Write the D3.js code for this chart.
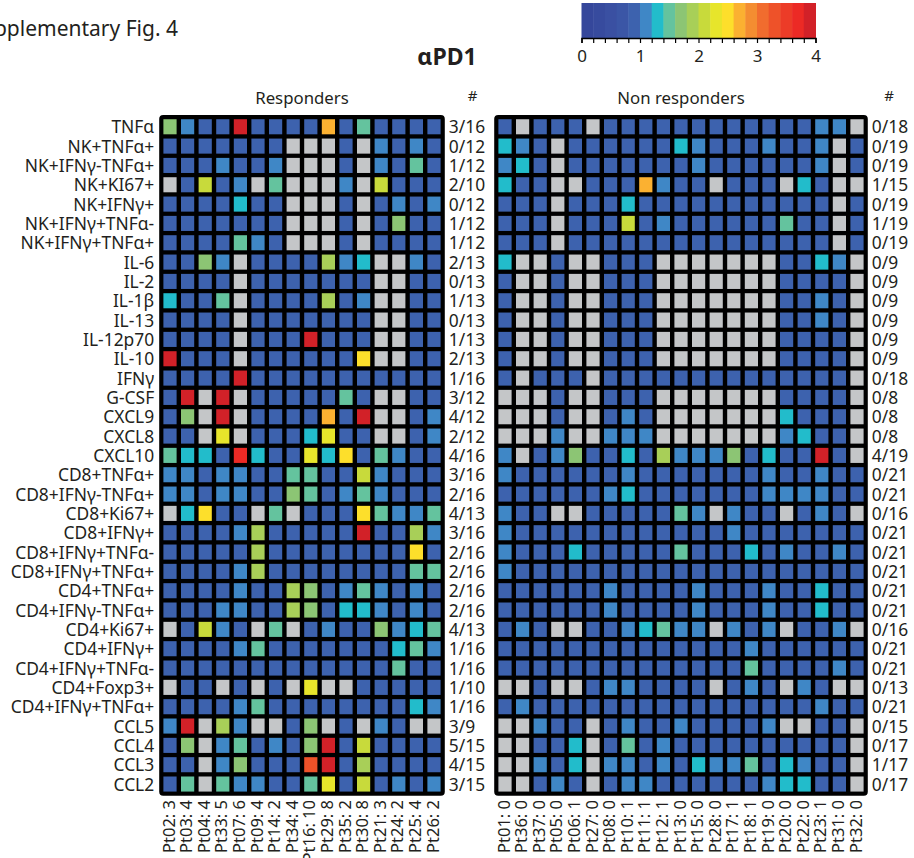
<!DOCTYPE html>
<html>
<head>
<meta charset="utf-8">
<script src="https://cdn.jsdelivr.net/npm/d3@7"></script>
<style>
  body { margin: 0; background: #fff; }
  svg text { font-family: "Noto Sans", sans-serif; fill: #231f20; }
</style>
</head>
<body>
<div id="chart"></div>
<script>
// rows (markers), top to bottom
const rowLabels = ["TNFα", "NK+TNFα+", "NK+IFNγ-TNFα+", "NK+KI67+", "NK+IFNγ+", "NK+IFNγ+TNFα-",
  "NK+IFNγ+TNFα+", "IL-6", "IL-2", "IL-1β", "IL-13", "IL-12p70", "IL-10", "IFNγ", "G-CSF", "CXCL9",
  "CXCL8", "CXCL10", "CD8+TNFα+", "CD8+IFNγ-TNFα+", "CD8+Ki67+", "CD8+IFNγ+", "CD8+IFNγ+TNFα-",
  "CD8+IFNγ+TNFα+", "CD4+TNFα+", "CD4+IFNγ-TNFα+", "CD4+Ki67+", "CD4+IFNγ+", "CD4+IFNγ+TNFα-",
  "CD4+Foxp3+", "CD4+IFNγ+TNFα+", "CCL5", "CCL4", "CCL3", "CCL2"];

const respCols = ["Pt02: 3", "Pt03: 4", "Pt04: 4", "Pt33: 5", "Pt07: 6", "Pt09: 4", "Pt14: 2", "Pt34: 4",
  "Pt16: 10", "Pt29: 8", "Pt35: 2", "Pt30: 8", "Pt21: 3", "Pt24: 2", "Pt25: 4", "Pt26: 2"];
const nonCols = ["Pt01: 0", "Pt36: 0", "Pt37: 0", "Pt05: 0", "Pt06: 1", "Pt27: 0", "Pt08: 0", "Pt10: 1",
  "Pt11: 1", "Pt12: 1", "Pt13: 0", "Pt15: 0", "Pt28: 0", "Pt17: 1", "Pt18: 1", "Pt19: 0", "Pt20: 0",
  "Pt22: 0", "Pt23: 1", "Pt31: 0", "Pt32: 0"];

const respFrac = ["3/16", "0/12", "1/12", "2/10", "0/12", "1/12", "1/12", "2/13", "0/13", "1/13", "0/13",
  "1/13", "2/13", "1/16", "3/12", "4/12", "2/12", "4/16", "3/16", "2/16", "4/13", "3/16", "2/16", "2/16",
  "2/16", "2/16", "4/13", "1/16", "1/16", "1/10", "1/16", "3/9", "5/15", "4/15", "3/15"];
const nonFrac = ["0/18", "0/19", "0/19", "1/15", "0/19", "1/19", "0/19", "0/9", "0/9", "0/9", "0/9",
  "0/9", "0/9", "0/18", "0/8", "0/8", "0/8", "4/19", "0/21", "0/21", "0/16", "0/21", "0/21", "0/21",
  "0/21", "0/21", "0/16", "0/21", "0/21", "0/13", "0/21", "0/15", "0/17", "1/17", "0/17"];

// cell value per letter ("-" = not measured)
const codeValue = { b: 0.9, l: 1.1, c: 1.3, t: 1.5, g: 1.7, y: 1.9, L: 2.1, Y: 2.3, G: 2.5,
  o: 2.7, O: 3.3, R: 3.7, r: 3.9, "-": null };

const respCells = [
  "glbbrbbbbobtbbbb", "bbbbbbb---b-lblb", "bbblbbl---b-lbtb", "-bLbl-t---l-Lbbb", "bbbbcbb---b-blbl",
  "bbbbbbb---b-bgbb", "bbbbtlb---b-bbbb", "bbgl-bbbbylc--lb", "bbbb-bbbbbbb--bb", "cbbt-bbbbybl--bb",
  "bbbb-bbbbbbb--bb", "bbbb-bbbrbbb--bb", "rbbb-bbbbbbG--bb", "bbbbrbbbbbbbbbbb", "br-r-bbbbbtb--bb",
  "bg-r-bbbbobr--bl", "bb-Y-bbbcYbb--bl", "tccbRcbbYcGbtlbb", "llbllbbttbbLlbbb", "llbllbbgtbltlbbb",
  "-cGbb-t-bbbGtllt", "bbbblybbbbbrbbyl", "bbbbbybbbbbbbbGb", "bbbblybbbbbbbbtt", "bbbblbbygbltlblb",
  "bbbllbbygbcclblb", "-bLlb-t-blbbglct", "bbbbltbbbbbbbctl", "bbbbbbbbbbbbbtbb", "-bb-b-b-Y--bbbbb",
  "bbbbltbbbbbbbbcl", "lr-yl--bg-b-lb--", "bg-ltblbgrbLbbbb", "bb-lgbbbOrbybbbb", "bt-tllbbtYbLblbl"];

const nonCells = [
  "b-bbb-bbbbbbbbbbbbll-", "clb-bbbbbbclbbblbbl-b", "lcb-bbbbbbblbbbbbbl-b", "cbb--bbbolbb-bbb-cb--",
  "bbb-bbbcbbbbbbbbbbb-b", "bbb-bbbLblbbbbbbtbb-b", "bbb-bbbbbbbbbbbbbbb-b", "c--b--bbb-------bbcl-",
  "b--b--bbb-------bbbb-", "b--b--bbb-------bblb-", "b--b--bbb-------bblb-", "b--b--bbb-------bbbb-",
  "b--b--bbb-------bbbb-", "b-bbb-bbbbbbbbbbbbbb-", "---b--bbb-------bbbb-", "---b--blb-------cbbb-",
  "---l--lll-------lcbb-", "l-blgbbcbylllgbcbbrb-", "lbbbbbblbbbbbbblbblbb", "bbbbbblcbbbbbbbllllbb",
  "lbb--bbbbbtl-lbb-blb-", "lbbbbbbbbbbbblbbbbbbb", "lbbbcbbbbbtbbbcblbblb", "lbbbbbbbbbbbbbbbbbbbb",
  "bbbbbblbbbblbbblbbcbb", "bbbbbblbbbblbbblbbcbb", "blb--bblctll-lbl-bbl-", "bbbbbbbbbbbbbblbbbbbb",
  "bbbbbbbbbbbbbbtbbbblb", "--b--bllbbbb-blb-lb--", "blbbbbbbbbbbbbbbbblbb", "--lbb-blbblbbbbl--bb-",
  "--bbc-btblbbbbbbbbbb-", "--lbc-llblbclltbclbb-", "--blb-bllbbbbbblccbb-"];

// colour bar bins, 0 to 4 in steps of 0.2
const palette = ["#35479b", "#374b9e", "#3a50a2", "#3b56a6", "#3d62ae", "#3f87c6", "#22bccb", "#64c39e",
  "#8cc574", "#a8cf58", "#c8da3b", "#e7e52b", "#fddf2b", "#fbb131", "#f48d31", "#f16c2e", "#ee5229",
  "#ec3c28", "#ec2a25", "#d22128"];
const legendTicks = d3.range(0, 21).map(i => i * 0.2);

const W = 914, H = 858;
const svg = d3.select("#chart").append("svg").attr("width", W).attr("height", H);

const color = d3.scaleQuantize().domain([0, 4]).range(palette);
const missing = "#c4c6c8";

const y = d3.scaleBand().domain(rowLabels).range([117.1, 793.7]).paddingInner(0.22).paddingOuter(0.11);

function panel(cols, cells, fracs, x0, title, hashX, labelsLeft) {
  const x = d3.scaleBand().domain(cols).range([x0, x0 + cols.length * 17.6])
    .paddingInner(0.25).paddingOuter(0.125);
  const [a, b] = x.range();
  const g = svg.append("g");

  g.append("rect")
    .attr("x", a - 2).attr("y", y.range()[0] - 2)
    .attr("width", b - a + 4).attr("height", y.range()[1] - y.range()[0] + 4)
    .attr("rx", 4).attr("fill", "#000");

  const data = [];
  cells.forEach((s, r) => s.split("").forEach((ch, c) => {
    data.push({ row: rowLabels[r], col: cols[c], v: codeValue[ch] });
  }));

  g.selectAll("rect.cell").data(data).enter().append("rect")
    .attr("class", "cell")
    .attr("x", d => x(d.col)).attr("y", d => y(d.row))
    .attr("width", x.bandwidth()).attr("height", y.bandwidth())
    .attr("fill", d => d.v == null ? missing : color(d.v));

  // column labels
  g.selectAll("text.col").data(cols).enter().append("text")
    .attr("class", "col")
    .attr("transform", d => `translate(${x(d) + x.bandwidth() / 2 + 4.5},800) rotate(-90)`)
    .attr("text-anchor", "end")
    .style("font-size", "16.5px")
    .text(d => d);

  // fraction column
  g.selectAll("text.frac").data(fracs).enter().append("text")
    .attr("class", "frac")
    .attr("x", b + 6)
    .attr("y", (d, i) => y(rowLabels[i]) + y.bandwidth() / 2 + 6.5)
    .style("font-size", "17.4px")
    .text(d => d);

  g.append("text").attr("x", (a + b) / 2).attr("y", 104)
    .attr("text-anchor", "middle").style("font-size", "16.8px").text(title);
  g.append("text").attr("x", hashX).attr("y", 101)
    .attr("text-anchor", "middle").style("font-size", "15px").text("#");

  if (labelsLeft) {
    g.selectAll("text.row").data(rowLabels).enter().append("text")
      .attr("class", "row")
      .attr("x", a - 7)
      .attr("y", d => y(d) + y.bandwidth() / 2 + 6.5)
      .attr("text-anchor", "end")
      .style("font-size", "17.4px")
      .text(d => d);
  }
}

panel(respCols, respCells, respFrac, 161.2, "Responders", 472.5, true);
panel(nonCols, nonCells, nonFrac, 496.2, "Non responders", 889, false);

// titles
svg.append("text").attr("x", 178).attr("y", 36).attr("text-anchor", "end")
  .style("font-size", "21px").text("Supplementary Fig. 4");
svg.append("text").attr("x", 447).attr("y", 65).attr("text-anchor", "middle")
  .style("font-size", "23px").style("font-weight", "bold").text("αPD1");

// colour bar
const lx = d3.scaleLinear().domain([0, 4]).range([581.5, 815.5]);
const leg = svg.append("g");
leg.selectAll("rect").data(palette).enter().append("rect")
  .attr("x", (d, i) => lx(i * 0.2)).attr("y", 3)
  .attr("width", lx(0.2) - lx(0) + 0.5).attr("height", 35)
  .attr("fill", d => d);

const axis = d3.axisBottom(lx).tickValues(legendTicks).tickSize(5)
  .tickFormat(d => Math.abs(d - Math.round(d)) < 1e-6 ? d3.format("d")(Math.round(d)) : "");
const ax = leg.append("g").attr("transform", "translate(0,38)").call(axis);
ax.select(".domain").attr("stroke", "#000").attr("stroke-width", 1.5);
ax.selectAll(".tick line").attr("stroke", "#000").attr("stroke-width", 1.2);
ax.selectAll(".tick text").style("font-size", "17px").attr("dy", "0.95em").attr("fill", "#231f20");
</script>
</body>
</html>
